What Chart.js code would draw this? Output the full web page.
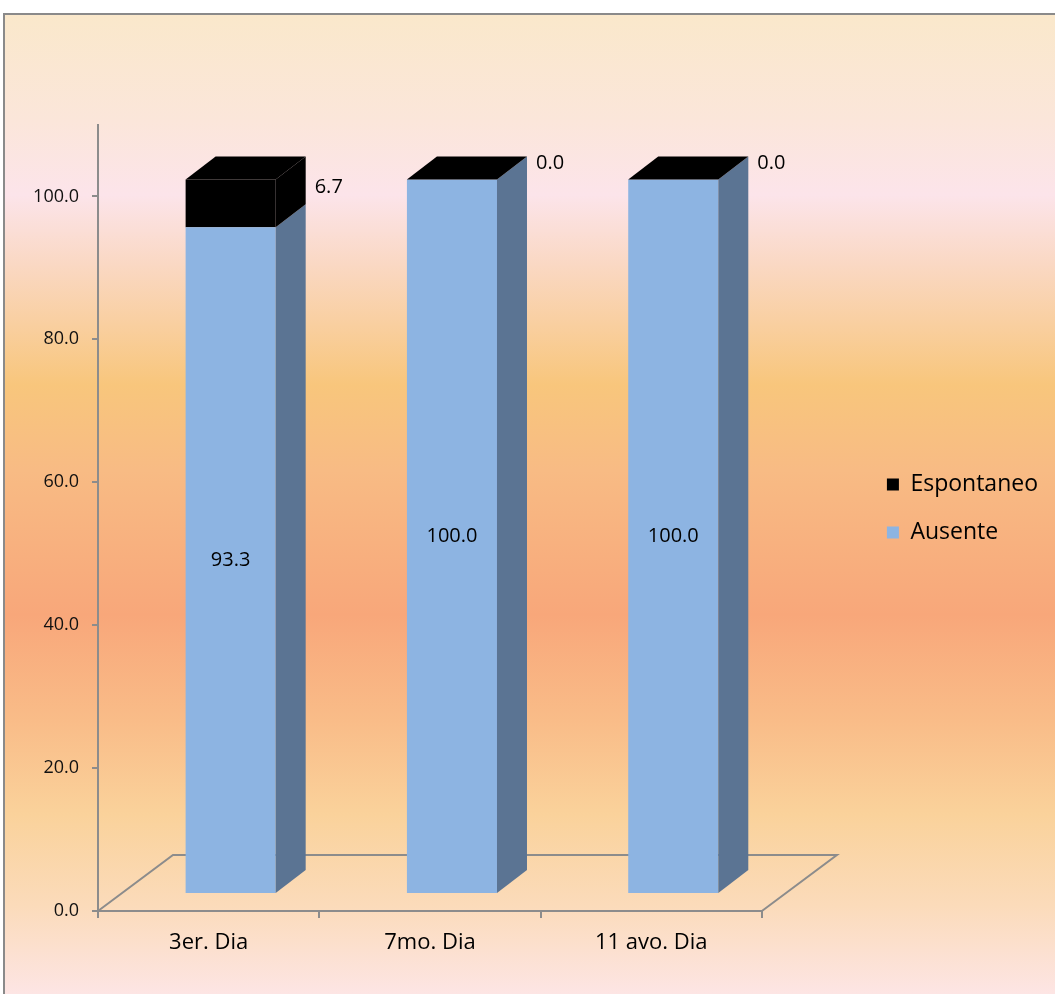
<!DOCTYPE html>
<html>
<head>
<meta charset="utf-8">
<style>
  html, body { margin: 0; padding: 0; background: #ffffff; }
  #wrap { width: 1055px; height: 994px; }
</style>
<script src="https://cdn.jsdelivr.net/npm/chart.js@4/dist/chart.umd.min.js"></script>
</head>
<body>
<div id="wrap"><canvas id="chart" width="1055" height="994"></canvas></div>
<script>
// Categories and series
const categories = ['3er. Dia', '7mo. Dia', '11 avo. Dia'];
const ausente = [93.3, 100.0, 100.0];
const espontaneo = [6.7, 0.0, 0.0];
const seriesNames = ['Ausente', 'Espontaneo'];
const yTicks = [0, 20, 40, 60, 80, 100];

const FRONT_BLUE = '#8DB4E2';
const SIDE_BLUE = '#5B7493';
const BLACK = '#000000';
const AXIS_GREY = '#8C8C8C';

// Oblique projection used for the pseudo-3D look
const BAR_SHIFT = { x: 22, y: -17 };   // bar front plane vs. axis plane
const BAR_DEPTH = { x: 30, y: -23 };   // column depth
const FLOOR_DEPTH = { x: 75, y: -56 }; // floor depth

const sideColors = [SIDE_BLUE, BLACK];
const topColors = [FRONT_BLUE, BLACK];

const backdrop = {
  id: 'backdrop',
  beforeDraw(chart) {
    const { ctx, width, height } = chart;
    ctx.save();
    ctx.fillStyle = '#ffffff';
    ctx.fillRect(0, 0, width, height);
    const g = ctx.createLinearGradient(0, 15, 0, height);
    const stops = [
      [15, '#FAE8CB'], [120, '#FBE6DA'], [195, '#FCE4EA'], [265, '#FAD8C3'],
      [385, '#F8C67C'], [470, '#F8BB84'], [615, '#F8A77A'], [720, '#F9BC88'],
      [815, '#FAD29B'], [905, '#FBDBBA'], [994, '#FDE5E4']
    ];
    stops.forEach(([y, c]) => g.addColorStop((y - 15) / (height - 15), c));
    ctx.fillStyle = g;
    ctx.fillRect(5, 15, width - 5, height - 15);
    ctx.strokeStyle = '#8A8A8A';
    ctx.lineWidth = 2;
    ctx.beginPath();
    ctx.moveTo(4, height);
    ctx.lineTo(4, 14);
    ctx.lineTo(width, 14);
    ctx.stroke();
    ctx.restore();
  }
};

const columns3d = {
  id: 'columns3d',
  beforeDatasetsDraw(chart) {
    const { ctx } = chart;
    const xs = chart.scales.x, ys = chart.scales.y;
    const y0 = ys.getPixelForValue(0);
    const l = xs.left, r = xs.right;
    // floor outline (front edge is the x axis border)
    ctx.save();
    ctx.strokeStyle = AXIS_GREY;
    ctx.lineWidth = 2;
    ctx.beginPath();
    ctx.moveTo(l, y0);
    ctx.lineTo(l + FLOOR_DEPTH.x, y0 + FLOOR_DEPTH.y);
    ctx.lineTo(r + FLOOR_DEPTH.x, y0 + FLOOR_DEPTH.y);
    ctx.lineTo(r, y0);
    ctx.stroke();
    ctx.restore();
    // columns sit in the middle of the floor depth
    ctx.save();
    ctx.translate(BAR_SHIFT.x, BAR_SHIFT.y);
  },
  afterDatasetsDraw(chart) {
    const { ctx } = chart;
    const dx = BAR_DEPTH.x, dy = BAR_DEPTH.y;
    const metas = chart.data.datasets.map((d, i) => chart.getDatasetMeta(i));
    const n = chart.data.labels.length;
    for (let k = 0; k < n; k++) {
      metas.forEach((meta, di) => {
        const el = meta.data[k];
        const p = el.getProps(['x', 'y', 'base', 'width'], true);
        const left = p.x - p.width / 2, right = p.x + p.width / 2;
        const top = Math.min(p.y, p.base), bot = Math.max(p.y, p.base);
        if (bot - top > 0.01) {
          ctx.fillStyle = sideColors[di];
          ctx.beginPath();
          ctx.moveTo(right, top);
          ctx.lineTo(right + dx, top + dy);
          ctx.lineTo(right + dx, bot + dy);
          ctx.lineTo(right, bot);
          ctx.closePath();
          ctx.fill();
        }
        if (di === metas.length - 1) {
          ctx.fillStyle = topColors[di];
          ctx.beginPath();
          ctx.moveTo(left, top);
          ctx.lineTo(left + dx, top + dy);
          ctx.lineTo(right + dx, top + dy);
          ctx.lineTo(right, top);
          ctx.closePath();
          ctx.fill();
        }
      });
    }
    // value labels
    ctx.fillStyle = '#000000';
    ctx.font = '20px "Open Sans"';
    metas.forEach((meta, di) => {
      const values = chart.data.datasets[di].data;
      meta.data.forEach((el, k) => {
        const p = el.getProps(['x', 'y', 'base', 'width'], true);
        const txt = values[k].toFixed(1);
        if (di === 0) {
          ctx.textAlign = 'center';
          ctx.textBaseline = 'middle';
          ctx.fillText(txt, p.x, (p.y + p.base) / 2);
        } else {
          ctx.textAlign = 'left';
          ctx.textBaseline = 'middle';
          const right = p.x + p.width / 2;
          ctx.fillText(txt, right + dx + 9, (p.y + dy + p.base) / 2 - 5);
        }
      });
    });
    ctx.restore();
  }
};

new Chart(document.getElementById('chart'), {
  type: 'bar',
  data: {
    labels: categories,
    datasets: [
      { label: seriesNames[0], data: ausente, backgroundColor: FRONT_BLUE, borderWidth: 0 },
      { label: seriesNames[1], data: espontaneo, backgroundColor: BLACK, borderWidth: 0 }
    ]
  },
  options: {
    responsive: false,
    animation: false,
    devicePixelRatio: 1,
    layout: { padding: { top: 125, right: 7, bottom: 0, left: 0 } },
    datasets: { bar: { categoryPercentage: 1.0, barPercentage: 0.407 } },
    plugins: {
      tooltip: { enabled: false },
      legend: {
        position: 'right',
        fullSize: false,
        align: 'start',
        reverse: true,
        maxWidth: 400,
        title: { display: true, text: '', font: { size: 10 }, padding: { top: 311, bottom: 0 } },
        labels: {
          boxWidth: 12,
          boxHeight: 12,
          padding: 25,
          color: '#000000',
          font: { family: '"Open Sans"', size: 23 }
        }
      }
    },
    scales: {
      x: {
        stacked: true,
        offset: true,
        afterFit(s) { s.height = 83; },
        grid: { offset: true, drawOnChartArea: false, drawTicks: true, tickLength: 7, color: AXIS_GREY, lineWidth: 2 },
        border: { display: true, color: AXIS_GREY, width: 2 },
        ticks: { color: '#000000', padding: 12, font: { family: '"Open Sans"', size: 22 } }
      },
      y: {
        stacked: true,
        min: 0,
        max: 110,
        afterFit(s) { s.width = 98; },
        afterBuildTicks(s) { s.ticks = yTicks.map(v => ({ value: v })); },
        grid: { drawOnChartArea: false, drawTicks: true, tickLength: 6, color: AXIS_GREY, lineWidth: 2 },
        border: { display: true, color: AXIS_GREY, width: 2 },
        ticks: {
          color: '#111111',
          padding: 13,
          font: { family: '"Open Sans"', size: 18 },
          callback: v => Number(v).toFixed(1)
        }
      },
      spacer: {
        type: 'linear',
        position: 'right',
        afterFit(s) { s.width = 100; },
        grid: { display: false },
        border: { display: false },
        ticks: { display: false }
      }
    }
  },
  plugins: [backdrop, columns3d]
});
</script>
</body>
</html>
